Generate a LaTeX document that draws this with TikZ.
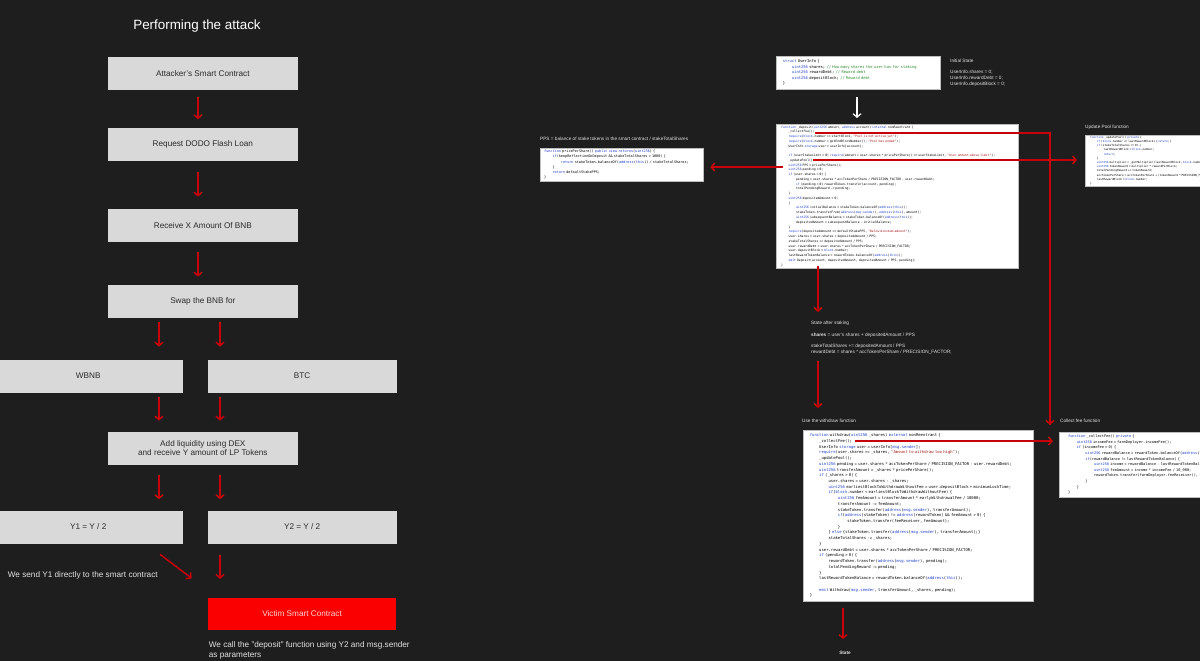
\documentclass[tikz,border=0pt]{standalone}
\usepackage{fontspec}
\setmainfont{Liberation Sans}
\newfontfamily\codefont{DejaVu Sans Mono}
\usetikzlibrary{arrows.meta}

\definecolor{bgdark}{HTML}{1E1E1E}
\definecolor{boxgray}{HTML}{D9D9D9}
\definecolor{boxtext}{HTML}{2B2B2B}
\definecolor{arrowred}{HTML}{C8000A}
\definecolor{victimred}{HTML}{FA0000}
\definecolor{victimtext}{HTML}{FFD0D0}
\definecolor{notetext}{HTML}{E2E2E2}
\definecolor{codeedge}{HTML}{BDBDBD}
\definecolor{kwblue}{HTML}{1F3FC8}
\definecolor{strred}{HTML}{A31515}
\definecolor{cmtgreen}{HTML}{2E8B2E}

\newcommand\ckw[1]{\textcolor{kwblue}{#1}}
\newcommand\cstr[1]{\textcolor{strred}{#1}}
\newcommand\ccmt[1]{\textcolor{cmtgreen}{#1}}
\newcommand\cin{\hspace*{2.4em}}

\tikzset{
  flowbox/.style={rectangle,fill=boxgray,minimum width=189.3pt,minimum height=33pt,anchor=north west,inner sep=0,text=boxtext,align=center,font=\fontsize{8.2}{9.4}\selectfont},
  redarrow/.style={draw=arrowred,line width=1.5pt,-{Straight Barb[length=3.5pt,width=8pt]}},
  whitearrow/.style={draw=white,line width=1.2pt,-{Straight Barb[length=3.5pt,width=8pt]}},
  codebox/.style={rectangle,fill=white,draw=codeedge,line width=0.3pt,anchor=north west,align=left,inner xsep=5pt,inner ysep=1pt,text=black},
  note/.style={anchor=north west,inner sep=0,text=notetext,align=left,font=\fontsize{4.7}{5.8}\selectfont}
}

\begin{document}
\begin{tikzpicture}[x=1pt,y=-1pt]
    \path[use as bounding box](0,0)rectangle(1200,661);
    \clip(0,0)rectangle(1200,661);
    \fill[bgdark](0,0)rectangle(1200,661);

    % flow of the attack
    \node[anchor=base,text=white,font=\fontsize{13.4}{16}\selectfont](title)at(197,29.3){Performing the attack};

    \node[flowbox](attacker)at(108,56.7){Attacker's Smart Contract};
    \node[flowbox](request)at(108,127.3){Request DODO Flash Loan};
    \node[flowbox](receive)at(108,208.7){Receive X Amount Of BNB};
    \node[flowbox](swap)at(108,284.3){Swap the BNB for};
    \node[flowbox](wbnb)at(-6.6,359.3){WBNB};
    \node[flowbox](btc)at(207.3,359.3){BTC};
    \node[flowbox](liquidity)at(108,431.3){Add liquidity using DEX\\and receive Y amount of LP Tokens};
    \node[flowbox](yone)at(-6.6,510.3){Y1 = Y / 2};
    \node[flowbox](ytwo)at(207.3,510.3){Y2 = Y / 2};
    \node[flowbox,fill=victimred,text=victimtext,minimum width=188.3pt,minimum height=32pt](victim)at(207.7,597.3){Victim Smart Contract};

    \node[anchor=base west,inner sep=0,text=notetext,font=\fontsize{8.2}{9.4}\selectfont](sendnote)at(7.7,577){We send Y1 directly to the smart contract};
    \node[anchor=north west,inner sep=0,text=notetext,align=left,font=\fontsize{8.2}{9.4}\selectfont](callnote)at(208.7,641.5){We call the "deposit" function using Y2 and msg.sender\\as parameters};

    \coordinate(cx)at(198,0);
    \coordinate(lx)at(159,0);
    \coordinate(rx)at(220,0);
    \coordinate(sendfrom)at(160,554.3);
    \coordinate(sendtip)at(191.7,578.3);

    \draw[redarrow,shorten <=6.7pt,shorten >=8pt](cx |- attacker.south)--(cx |- request.north);
    \draw[redarrow,shorten <=11pt,shorten >=12pt](cx |- request.south)--(cx |- receive.north);
    \draw[redarrow,shorten <=10.3pt,shorten >=7.6pt](cx |- receive.south)--(cx |- swap.north);
    \draw[redarrow,shorten <=4.6pt,shorten >=12.6pt](lx |- swap.south)--(lx |- wbnb.north);
    \draw[redarrow,shorten <=4.6pt,shorten >=12.6pt](rx |- swap.south)--(rx |- btc.north);
    \draw[redarrow,shorten <=4.4pt,shorten >=10.6pt](lx |- wbnb.south)--(lx |- liquidity.north);
    \draw[redarrow,shorten <=4.4pt,shorten >=10.6pt](rx |- btc.south)--(rx |- liquidity.north);
    \draw[redarrow,shorten <=10.6pt,shorten >=11pt](lx |- liquidity.south)--(lx |- yone.north);
    \draw[redarrow,shorten <=10.6pt,shorten >=11pt](rx |- liquidity.south)--(rx |- ytwo.north);
    \draw[redarrow](sendfrom)--(sendtip);
    \draw[redarrow,shorten <=11pt,shorten >=18.3pt](rx |- ytwo.south)--(rx |- victim.north);

    % code of the victim contract
    \node[codebox,inner xsep=7pt,text width=150pt,minimum height=33.3pt,font=\codefont\fontsize{3.8}{5.5}\selectfont](struct)at(775.7,56){%
\ckw{struct} UserInfo \{\\
\cin\ckw{uint256} shares; \ccmt{// How many shares the user has for staking}\\
\cin\ckw{uint256} rewardDebt; \ccmt{// Reward debt}\\
\cin\ckw{uint256} depositBlock; \ccmt{// Reward debt}\\
\}};

    \node[note](initnote)at(950,58.5){Initial State\\[5.8pt]UserInfo.shares = 0;\\UserInfo.rewardDebt = 0;\\UserInfo.depositBlock = 0;};

    \node[codebox,text width=232pt,minimum height=144pt,font=\codefont\fontsize{3.1}{4.76}\selectfont](deposit)at(776,124){%
\ckw{function} \_deposit(\ckw{uint256} amount, \ckw{address} account) \ckw{internal} nonReentrant \{\\
\cin\_collectFee();\\
\cin\ckw{require}(\ckw{block}.number >= startBlock, \cstr{"Pool is not active yet"});\\
\cin\ckw{require}(\ckw{block}.number < getEndBlockNumber(), \cstr{"Pool has ended"});\\
\cin UserInfo \ckw{storage} user = userInfo[account];\\[4.76pt]
\cin\ckw{if} (userStakeLimit > 0) \ckw{require}(amount + user.shares * pricePerShare() <= userStakeLimit, \cstr{"User amount above limit"});\\
\cin\_updatePool();\\
\cin\ckw{uint256} PPS = pricePerShare();\\
\cin\ckw{uint256} pending = 0;\\
\cin\ckw{if} (user.shares > 0) \{\\
\cin\cin pending = user.shares * accTokenPerShare / PRECISION\_FACTOR - user.rewardDebt;\\
\cin\cin\ckw{if} (pending > 0) rewardToken.transfer(account, pending);\\
\cin\cin totalPendingReward -= pending;\\
\cin\}\\
\cin\ckw{uint256} depositedAmount = 0;\\
\cin\{\\
\cin\cin\ckw{uint256} initialBalance = stakeToken.balanceOf(\ckw{address}(\ckw{this}));\\
\cin\cin stakeToken.transferFrom(\ckw{address}(\ckw{msg.sender}), \ckw{address}(\ckw{this}), amount);\\
\cin\cin\ckw{uint256} subsequentBalance = stakeToken.balanceOf(\ckw{address}(\ckw{this}));\\
\cin\cin depositedAmount = subsequentBalance - initialBalance;\\
\cin\}\\
\cin\ckw{require}(depositedAmount >= defaultStakePPS, \cstr{"Below minimum amount"});\\
\cin user.shares = user.shares + depositedAmount / PPS;\\
\cin stakeTotalShares += depositedAmount / PPS;\\
\cin user.rewardDebt = user.shares * accTokenPerShare / PRECISION\_FACTOR;\\
\cin user.depositBlock = \ckw{block}.number;\\
\cin lastRewardTokenBalance = rewardToken.balanceOf(\ckw{address}(\ckw{this}));\\
\cin\ckw{emit} Deposit(account, depositedAmount, depositedAmount / PPS, pending);\\
\}};

    \node[note](ppsnote)at(540,136.8){PPS = balance of stake tokens in the smart contract / stakeTotalShares};
    \node[codebox,inner xsep=4pt,text width=155pt,minimum height=33pt,font=\codefont\fontsize{3.5}{5.3}\selectfont](ppsbox)at(540,148){%
\ckw{function} pricePerShare() \ckw{public} \ckw{view} \ckw{returns}(\ckw{uint256}) \{\\
\cin\ckw{if}(keepReflectionOnDeposit \&\& stakeTotalShares > 1000) \{\\
\cin\cin\ckw{return} stakeToken.balanceOf(\ckw{address}(\ckw{this})) / stakeTotalShares;\\
\cin\}\\
\cin\ckw{return} defaultStakePPS;\\
\}};

    \node[note](poolnote)at(1085,125){Update Pool function};
    \node[codebox,text width=170pt,minimum height=50pt,font=\codefont\fontsize{2.8}{4.2}\selectfont](poolbox)at(1085,135){%
\ckw{function} \_updatePool() \ckw{private} \{\\
\cin\ckw{if} (\ckw{block}.number <= lastRewardBlock) \{\ckw{return};\}\\
\cin\ckw{if} (stakeTotalShares == 0) \{\\
\cin\cin lastRewardBlock = \ckw{block}.number;\\
\cin\cin\ckw{return};\\
\cin\}\\
\cin\ckw{uint256} multiplier = \_getMultiplier(lastRewardBlock, \ckw{block}.number);\\
\cin\ckw{uint256} tokenReward = multiplier * rewardPerBlock;\\
\cin totalPendingReward += tokenReward;\\
\cin accTokenPerShare = accTokenPerShare + (tokenReward * PRECISION\_FACTOR) / stakeTotalShares;\\
\cin lastRewardBlock = \ckw{block}.number;\\
\}};

    \node[note](afterstake)at(811,321){State after staking\\[5.8pt]\textbf{shares} = user's shares + depositedAmount / PPS\\[5.8pt]stakeTotalShares += depositedAmount / PPS\\rewardDebt = shares * accTokenPerShare / PRECISION\_FACTOR;};

    \node[note](withdrawnote)at(802,418.5){Use the withdraw function};
    \node[codebox,inner xsep=7pt,text width=216.3pt,minimum height=171pt,font=\codefont\fontsize{3.9}{5.72}\selectfont](withdraw)at(802.7,430){%
\ckw{function} withdraw(\ckw{uint256} \_shares) \ckw{external} nonReentrant \{\\
\cin\_collectFee();\\
\cin UserInfo \ckw{storage} user = userInfo[\ckw{msg.sender}];\\
\cin\ckw{require}(user.shares >= \_shares, \cstr{"Amount to withdraw too high"});\\
\cin\_updatePool();\\
\cin\ckw{uint256} pending = user.shares * accTokenPerShare / PRECISION\_FACTOR - user.rewardDebt;\\
\cin\ckw{uint256} transferAmount = \_shares * pricePerShare();\\
\cin\ckw{if} (\_shares > 0) \{\\
\cin\cin user.shares = user.shares - \_shares;\\
\cin\cin\ckw{uint256} earliestBlockToWithdrawWithoutFee = user.depositBlock + minimumLockTime;\\
\cin\cin\ckw{if}(\ckw{block}.number < earliestBlockToWithdrawWithoutFee) \{\\
\cin\cin\cin\ckw{uint256} feeAmount = transferAmount * earlyWithdrawalFee / 10000;\\
\cin\cin\cin transferAmount -= feeAmount;\\
\cin\cin\cin stakeToken.transfer(\ckw{address}(\ckw{msg.sender}), transferAmount);\\
\cin\cin\cin\ckw{if}(\ckw{address}(stakeToken) != \ckw{address}(rewardToken) \&\& feeAmount > 0) \{\\
\cin\cin\cin\cin stakeToken.transfer(feeReceiver, feeAmount);\\
\cin\cin\cin\}\\
\cin\cin\} \ckw{else} \{stakeToken.transfer(\ckw{address}(\ckw{msg.sender}), transferAmount);\}\\
\cin\cin stakeTotalShares -= \_shares;\\
\cin\}\\
\cin user.rewardDebt = user.shares * accTokenPerShare / PRECISION\_FACTOR;\\
\cin\ckw{if} (pending > 0) \{\\
\cin\cin rewardToken.transfer(\ckw{address}(\ckw{msg.sender}), pending);\\
\cin\cin totalPendingReward -= pending;\\
\cin\}\\
\cin lastRewardTokenBalance = rewardToken.balanceOf(\ckw{address}(\ckw{this}));\\[5.72pt]
\cin\ckw{emit} Withdraw(\ckw{msg.sender}, transferAmount, \_shares, pending);\\
\}};

    \node[note](feenote)at(1060,419){Collect fee function};
    \node[codebox,inner xsep=9pt,text width=200pt,minimum height=65pt,font=\codefont\fontsize{3.6}{5.6}\selectfont](feebox)at(1059,432){%
\ckw{function} \_collectFee() \ckw{private} \{\\
\cin\ckw{uint256} incomeFee = farmDeployer.incomeFee();\\
\cin\ckw{if} (incomeFee > 0) \{\\
\cin\cin\ckw{uint256} rewardBalance = rewardToken.balanceOf(\ckw{address}(\ckw{this}));\\
\cin\cin\ckw{if}(rewardBalance != lastRewardTokenBalance) \{\\
\cin\cin\cin\ckw{uint256} income = rewardBalance - lastRewardTokenBalance;\\
\cin\cin\cin\ckw{uint256} feeAmount = income * incomeFee / 10\_000;\\
\cin\cin\cin rewardToken.transfer(farmDeployer.feeReceiver(), feeAmount);\\
\cin\cin\}\\
\cin\}\\
\}};

    \node[anchor=center,inner sep=0,text=notetext,font=\fontsize{4.7}{5.8}\selectfont\bfseries](statenote)at(845,652.5){State};

    % calls between the pieces of code
    \coordinate(sx)at(818,0);
    \coordinate(wx)at(843,0);
    \coordinate(ax)at(857,0);
    \coordinate(dcollect)at(815,133);
    \coordinate(dupdate)at(813,160);
    \coordinate(dpps)at(783,167);
    \coordinate(wcollect)at(855,441);

    \draw[whitearrow,shorten <=7.7pt,shorten >=6pt](ax |- struct.south)--(ax |- deposit.north);
    \draw[redarrow,shorten >=7pt](dcollect)-|([xshift=-9pt]feebox.north west);
    \draw[redarrow,shorten >=8pt](dupdate)--(dupdate -| poolbox.west);
    \draw[redarrow,shorten >=7pt](dpps)--(dpps -| ppsbox.east);
    \draw[redarrow,shorten >=6pt](wcollect)--(wcollect -| feebox.west);
    \draw[redarrow,shorten <=-2pt,shorten >=9pt](sx |- deposit.south)--(sx |- afterstake.north);
    \draw[redarrow,shorten <=6.5pt,shorten >=10.5pt](sx |- afterstake.south)--(sx |- withdrawnote.north);
    \draw[redarrow,shorten <=6.7pt,shorten >=11.5pt](wx |- withdraw.south)--(wx |- statenote.north);
\end{tikzpicture}
\end{document}
